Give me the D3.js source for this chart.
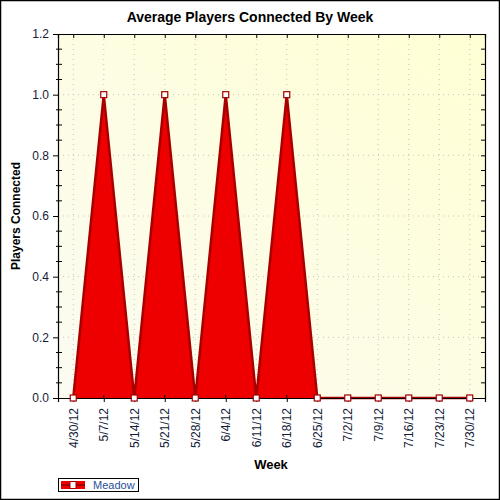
<!DOCTYPE html>
<html>
<head>
<meta charset="utf-8">
<script src="https://cdn.jsdelivr.net/npm/d3@7"></script>
<style>
  body { margin: 0; background: #fff; }
  text { font-family: "Liberation Sans", Arial, sans-serif; }
</style>
</head>
<body>
<div id="grafico"></div>
<script>
// datos
const semanas = ["4/30/12", "5/7/12", "5/14/12", "5/21/12", "5/28/12", "6/4/12", "6/11/12",
                 "6/18/12", "6/25/12", "7/2/12", "7/9/12", "7/16/12", "7/23/12", "7/30/12"];
const jugadores = [0, 1, 0, 1, 0, 1, 0, 1, 0, 0, 0, 0, 0, 0];
const serieNombre = "Meadow";
const ticksY = [0, 0.2, 0.4, 0.6, 0.8, 1.0, 1.2];

const W = 500, H = 500;
const m = { left: 58, right: 15, top: 34, bottom: 102 };

const svg = d3.select("#grafico").append("svg")
  .attr("width", W).attr("height", H);

// borde exterior
svg.append("rect").attr("x", 0.5).attr("y", 0.5).attr("width", W - 1).attr("height", H - 1)
  .attr("fill", "#fff").attr("stroke", "#000").attr("stroke-width", 1.5);

const defs = svg.append("defs");
const grad = defs.append("linearGradient").attr("id", "fondo")
  .attr("x1", 0).attr("y1", 1).attr("x2", 1).attr("y2", 0);
grad.append("stop").attr("offset", "0%").attr("stop-color", "#fbfbf2");
grad.append("stop").attr("offset", "100%").attr("stop-color", "#ffffd4");

const x = d3.scalePoint().domain(semanas).range([m.left, W - m.right]).padding(0.5);
const y = d3.scaleLinear().domain([0, 1.2]).range([H - m.bottom, m.top]);

const x0 = m.left, x1 = W - m.right, y0 = H - m.bottom, y1 = m.top;

svg.append("rect").attr("x", x0).attr("y", y1).attr("width", x1 - x0).attr("height", y0 - y1)
  .attr("fill", "url(#fondo)");

// rejilla punteada
const rejilla = svg.append("g").attr("stroke", "#c4c4c4").attr("stroke-dasharray", "1,4");
rejilla.selectAll("line.v").data(semanas).join("line")
  .attr("x1", d => x(d)).attr("x2", d => x(d)).attr("y1", y1).attr("y2", y0);
rejilla.selectAll("line.h").data(ticksY.slice(1, -1)).join("line")
  .attr("x1", x0).attr("x2", x1).attr("y1", d => y(d)).attr("y2", d => y(d));

// área
const datos = semanas.map((s, i) => ({ s, v: jugadores[i] }));
svg.append("path").datum(datos)
  .attr("fill", "#ee0000")
  .attr("d", d3.area().x(d => x(d.s)).y0(y(0)).y1(d => y(d.v)));
svg.append("path").datum(datos)
  .attr("fill", "none").attr("stroke", "#a80000").attr("stroke-width", 2.5)
  .attr("d", d3.line().x(d => x(d.s)).y(d => y(d.v)));

// ejes
const ejeIzq = svg.append("g").attr("transform", `translate(${x0},0)`)
  .call(d3.axisLeft(y).tickValues(ticksY).tickFormat(d3.format(".1f")).tickSize(5).tickPadding(4));
const ejeDer = svg.append("g").attr("transform", `translate(${x1},0)`)
  .call(d3.axisLeft(y).tickValues(ticksY).tickFormat("").tickSize(4));
const ejeSup = svg.append("g").attr("transform", `translate(0,${y1})`)
  .call(d3.axisBottom(x).tickFormat("").tickSize(4));
const ejeInf = svg.append("g").attr("transform", `translate(0,${y0})`)
  .call(d3.axisBottom(x).tickSize(4).tickPadding(6));

// ticks menores del eje Y
const menores = d3.range(0.05, 1.2, 0.05).filter(v => Math.abs(v * 5 - Math.round(v * 5)) > 1e-6);
svg.append("g").selectAll("line").data(menores).join("line")
  .attr("x1", x0 - 2).attr("x2", x0 + 4).attr("y1", d => y(d)).attr("y2", d => y(d))
  .attr("stroke", "#000");
svg.append("g").selectAll("line").data(menores).join("line")
  .attr("x1", x1 - 4).attr("x2", x1).attr("y1", d => y(d)).attr("y2", d => y(d))
  .attr("stroke", "#000");
// ticks inferiores cruzando el eje
svg.append("g").selectAll("line").data(semanas).join("line")
  .attr("x1", d => x(d)).attr("x2", d => x(d)).attr("y1", y0 - 3).attr("y2", y0)
  .attr("stroke", "#000");

[ejeIzq, ejeDer, ejeSup, ejeInf].forEach(g => {
  g.select(".domain").attr("stroke", "#000").attr("stroke-width", 1.2);
  g.selectAll(".tick line").attr("stroke", "#000");
  g.selectAll("text").attr("font-size", 12).attr("fill", "#141c38")
    .attr("font-family", "Liberation Sans, Arial, sans-serif");
});
ejeInf.selectAll("text")
  .attr("transform", "rotate(-90)")
  .attr("text-anchor", "end")
  .attr("x", -10).attr("y", 0).attr("dy", "0.35em");

// marcadores
svg.append("g").selectAll("rect").data(datos).join("rect")
  .attr("x", d => x(d.s) - 3).attr("y", d => y(d.v) - 3)
  .attr("width", 6).attr("height", 6)
  .attr("fill", "#fff").attr("stroke", "#a00000").attr("stroke-width", 1.2);

// títulos
svg.append("text").attr("x", 250).attr("y", 22).attr("text-anchor", "middle")
  .attr("font-size", 14).attr("font-weight", "bold").text("Average Players Connected By Week");
svg.append("text").attr("x", 271).attr("y", 469).attr("text-anchor", "middle")
  .attr("font-size", 13).attr("font-weight", "bold").text("Week");
svg.append("text").attr("transform", `translate(20,${(y0 + y1) / 2}) rotate(-90)`)
  .attr("text-anchor", "middle").attr("font-size", 12).attr("font-weight", "bold")
  .text("Players Connected");

// leyenda
const ley = svg.append("g").attr("transform", "translate(58,478)");
ley.append("rect").attr("x", 0.5).attr("y", 0.5).attr("width", 80).attr("height", 13)
  .attr("fill", "#fff").attr("stroke", "#000");
ley.append("rect").attr("x", 3).attr("y", 3).attr("width", 24).attr("height", 8).attr("fill", "#ee0000");
ley.append("line").attr("x1", 3).attr("x2", 27).attr("y1", 7).attr("y2", 7)
  .attr("stroke", "#a80000").attr("stroke-width", 2);
ley.append("rect").attr("x", 12).attr("y", 3.5).attr("width", 6).attr("height", 7)
  .attr("fill", "#fff").attr("stroke", "#a00000");
ley.append("text").attr("x", 35).attr("y", 11).attr("font-size", 11).attr("fill", "#1f4f9a")
  .text(serieNombre);
</script>
</body>
</html>
